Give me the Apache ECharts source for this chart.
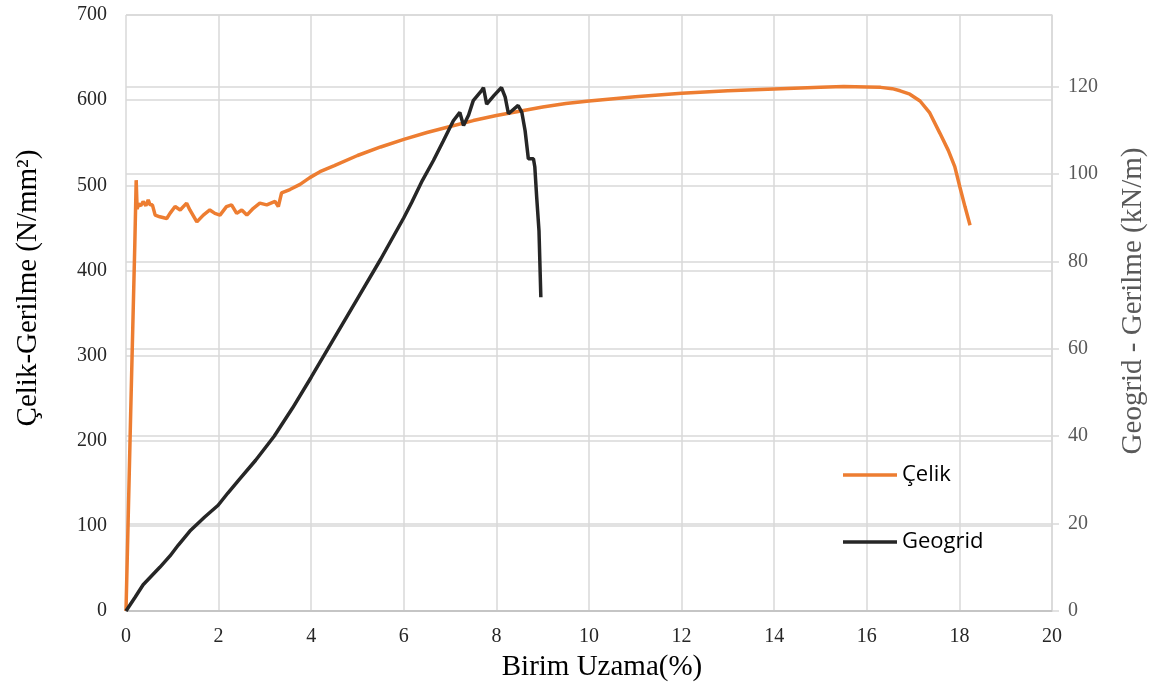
<!DOCTYPE html>
<html lang="tr">
<head>
  <meta charset="UTF-8" />
  <title>Çelik ve Geogrid Gerilme-Uzama</title>
  <script src="https://cdn.jsdelivr.net/npm/echarts@6.0.0/dist/echarts.min.js"></script>
  <style>
    html, body { margin: 0; padding: 0; background: #fff; }
    #chart { width: 1163px; height: 689px; }
  </style>
</head>
<body>
  <div id="chart"></div>
  <script>
    // Çelik (sol eksen, N/mm2)
    const celikUzama = [0, 0.1, 0.19, 0.22, 0.24, 0.27, 0.32, 0.37, 0.43, 0.48, 0.52, 0.57, 0.63, 0.73, 0.88, 0.95,
      1.06, 1.17, 1.31, 1.38, 1.53, 1.67, 1.81, 1.92, 2.03, 2.17, 2.28, 2.39, 2.5, 2.61, 2.75, 2.89, 3.04, 3.22,
      3.29, 3.36, 3.54, 3.76, 3.97, 4.19, 4.5, 5, 5.5, 6, 6.5, 7, 7.5, 8, 8.5, 9, 9.5, 10, 11, 12, 13, 14, 15,
      15.5, 16, 16.3, 16.55, 16.72, 16.93, 17.15, 17.36, 17.58, 17.76, 17.9, 18.01, 18.12, 18.23];
    const celikGerilme = [0, 230, 430, 506, 472, 478, 476, 481, 476, 483, 477, 477, 465, 463, 461, 467,
      475, 471, 479, 471, 457, 465, 471, 467, 465, 475, 477, 467, 471, 465, 473, 479, 477, 481,
      475, 491, 495, 501, 509, 516, 523, 535, 545, 554, 562, 569, 576, 582, 587, 592, 596, 599, 604, 608, 611, 613, 615,
      616, 615.5, 615, 613.5, 611, 607, 599, 585, 561, 541, 522, 498, 475, 453];

    // Geogrid (sağ eksen, kN/m)
    const geoUzama = [0, 0.05, 0.2, 0.37, 0.55, 0.73, 0.95, 1.13, 1.38, 1.7, 1.99, 2.2, 2.43, 2.8, 3.2, 3.6, 4.0,
      4.5, 5.0, 5.5, 6.0, 6.17, 6.4, 6.64, 6.85, 7.07, 7.21, 7.29, 7.4, 7.5, 7.68, 7.72, 7.79, 7.95, 8.11, 8.19,
      8.26, 8.47, 8.55, 8.62, 8.69, 8.8, 8.83, 8.87, 8.92, 8.96];
    const geoGerilme = [0, 0.8, 3.2, 6.0, 8, 10, 12.6, 15.1, 18.3, 21.5, 24.2, 27, 29.9, 34.5, 40, 46.5, 53.5,
      62.5, 71.5, 80.5, 90, 93.5, 98.5, 103.1, 107.5, 112.2, 114.1, 111.1, 113.5, 116.8, 119.1, 119.8, 116.0, 118, 119.8, 117.6,
      113.8, 115.7, 114.1, 109.9, 103.5, 103.5, 101.6, 94.7, 87, 71.8];

    const chart = echarts.init(document.getElementById('chart'));
    const serif = 'Liberation Serif';
    const gridColor = '#d9d9d9';
    const legendText = { fontFamily: 'Open Sans', fontSize: 22, color: '#000', lineHeight: 24 };

    chart.setOption({
      animation: false,
      backgroundColor: '#fff',
      grid: { left: 126, right: 111, top: 15, bottom: 78, containLabel: false },
      legend: [
        { data: ['Çelik'], icon: 'rect', left: 843, top: 463, padding: 0, itemWidth: 54, itemHeight: 3.5, textStyle: legendText },
        { data: ['Geogrid'], icon: 'rect', left: 843, top: 530, padding: 0, itemWidth: 54, itemHeight: 3.5, textStyle: legendText }
      ],
      xAxis: {
        type: 'value', min: 0, max: 20, interval: 2,
        axisLine: { show: true, lineStyle: { color: '#bfbfbf', width: 1.5 } },
        axisTick: { show: false },
        axisLabel: { fontFamily: serif, fontSize: 20, color: '#262626', margin: 16 },
        splitLine: { show: true, lineStyle: { color: gridColor, width: 1.5 } }
      },
      yAxis: [
        {
          type: 'value', min: 0, max: 700, interval: 100, position: 'left',
          axisLine: { show: false },
          axisTick: { show: false },
          axisLabel: { fontFamily: serif, fontSize: 20, color: '#262626', margin: 19 },
          splitLine: { show: true, lineStyle: { color: gridColor, width: 1.5 } }
        },
        {
          type: 'value', min: 0, max: 136.4, interval: 20, position: 'right',
          axisLine: { show: true, lineStyle: { color: gridColor, width: 1.5 } },
          axisTick: { show: true, length: 7, lineStyle: { color: gridColor, width: 1.5 } },
          axisLabel: { fontFamily: serif, fontSize: 20, color: '#595959', margin: 16, showMaxLabel: false },
          splitLine: { show: true, lineStyle: { color: gridColor, width: 1.5 } }
        }
      ],
      graphic: [
        {
          type: 'text', x: 28, y: 288, rotation: Math.PI / 2,
          style: { text: 'Çelik-Gerilme (N/mm²)', fontFamily: serif, fontSize: 29, fill: '#000', align: 'center', verticalAlign: 'middle' }
        },
        {
          type: 'text', x: 1133, y: 301, rotation: Math.PI / 2,
          style: { text: 'Geogrid - Gerilme (kN/m)', fontFamily: serif, fontSize: 29, fill: '#595959', align: 'center', verticalAlign: 'middle' }
        },
        {
          type: 'text', x: 602, y: 667,
          style: { text: 'Birim Uzama(%)', fontFamily: serif, fontSize: 29, fill: '#000', align: 'center', verticalAlign: 'middle' }
        }
      ],
      series: [
        {
          name: 'Çelik', type: 'line', yAxisIndex: 0, symbol: 'none',
          lineStyle: { color: '#ED7D31', width: 3.5 },
          itemStyle: { color: '#ED7D31' },
          data: celikUzama.map((x, i) => [x, celikGerilme[i]])
        },
        {
          name: 'Geogrid', type: 'line', yAxisIndex: 1, symbol: 'none',
          lineStyle: { color: '#262626', width: 3.5 },
          itemStyle: { color: '#262626' },
          data: geoUzama.map((x, i) => [x, geoGerilme[i]])
        }
      ]
    });
  </script>
</body>
</html>
